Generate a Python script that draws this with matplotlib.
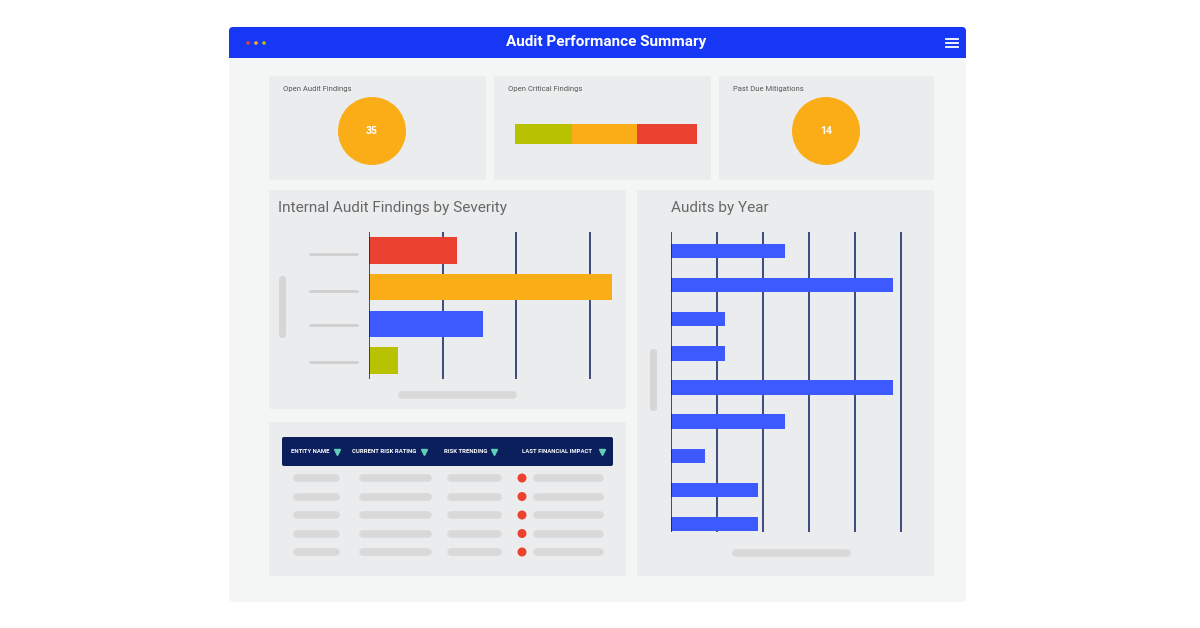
import matplotlib
matplotlib.use("Agg")
import matplotlib.pyplot as plt
from matplotlib.patches import FancyBboxPatch, Circle, Rectangle

# ---- data ----
title = "Audit Performance Summary"
kpi_titles = ["Open Audit Findings", "Open Critical Findings", "Past Due Mitigations"]
kpi_values = [35, 14]
critical_parts = [57, 65, 60]
critical_colors = ["#b9c200", "#fbad18", "#eb4130"]
severity_values = [12, 33, 15.5, 4]
severity_colors = ["#eb4130", "#fbad18", "#3d5afe", "#b9c200"]
severity_ticks = [10, 20, 30]
audits_values = [2.48, 4.83, 1.17, 1.17, 4.83, 2.48, 0.74, 1.89, 1.89]
audits_ticks = [1, 2, 3, 4, 5]
table_headers = ["ENTITY NAME", "CURRENT RISK RATING", "RISK TRENDING", "LAST FINANCIAL IMPACT"]
table_rows = 5

FONT = "Roboto"
W, H = 1200, 628
fig = plt.figure(figsize=(12, 6.28), dpi=100)
fig.patch.set_facecolor("white")
ax = fig.add_axes([0, 0, 1, 1])
ax.set_xlim(0, W); ax.set_ylim(H, 0); ax.axis("off")

def box(x0, y0, x1, y1, color, r=2, z=1):
    ax.add_patch(FancyBboxPatch((x0, y0), x1 - x0, y1 - y0,
                                boxstyle=f"round,pad=0,rounding_size={r}",
                                fc=color, ec="none", zorder=z))

def pill(x0, x1, y, lw=5.5, color="#d9d9d9", z=3):
    r = lw * 0.5 * 100 / 72
    ax.plot([x0 + r, x1 - r], [y, y], color=color, lw=lw, solid_capstyle="round", zorder=z)

def sub(x0, y0, x1, y1):
    return fig.add_axes([x0 / W, 1 - y1 / H, (x1 - x0) / W, (y1 - y0) / H])

# frame
box(229, 27, 966, 602, "#f4f5f5", r=5)
box(229, 27, 966, 58, "#1638f5", r=4, z=2)
ax.add_patch(Rectangle((229, 45), 737, 13, fc="#1638f5", ec="none", zorder=2))
ax.text(606, 42, title, color="white", fontsize=11, fontweight="bold",
        ha="center", va="center", family=FONT, zorder=3)
for i, c in enumerate(["#eb4130", "#fbad18", "#b9c200"]):
    ax.add_patch(Circle((248 + i * 8, 43), 1.8, fc=c, ec="none", zorder=3))
for dy in (-4, 0, 4):
    ax.plot([946, 958], [43 + dy, 43 + dy], color="white", lw=1.3, zorder=3)

# KPI cards
cards = [(269, 486), (494, 711), (719, 934)]
for (x0, x1), t in zip(cards, kpi_titles):
    box(x0, 76, x1, 180, "#ebeced", r=2)
    ax.text(x0 + 14, 89, t, fontsize=5.5, color="#555", va="center", family=FONT, zorder=3)
for cx, v in zip([372, 826], kpi_values):
    ax.add_patch(Circle((cx, 131), 34, fc="#fbad18", ec="none", zorder=3))
    ax.text(cx, 131, str(v), color="white", fontsize=7.5, fontweight="bold",
            ha="center", va="center", family=FONT, zorder=4)
cax = sub(515, 124, 697, 144)
left = 0
for v, c in zip(critical_parts, critical_colors):
    cax.barh(0, v, left=left, height=1, color=c)
    left += v
cax.set_xlim(0, sum(critical_parts)); cax.set_ylim(-0.5, 0.5); cax.axis("off")

# panels
box(269, 190, 626, 409, "#ebeced", r=2)
box(637, 190, 934, 576, "#ebeced", r=2)
box(269, 422, 626, 576, "#ebeced", r=2)
ax.text(278, 208, "Internal Audit Findings by Severity", fontsize=11, color="#666",
        va="center", family=FONT, zorder=3)
ax.text(671, 208, "Audits by Year", fontsize=11, color="#666",
        va="center", family=FONT, zorder=3)

# severity chart
sax = sub(369, 232, 615.5, 379)
sax.set_facecolor("none")
n = len(severity_values)
sax.barh(range(n), severity_values, height=0.72, color=severity_colors, zorder=2)
for t in severity_ticks:
    sax.axvline(t, color="#0b1f5c", lw=1.1, zorder=1)
sax.axvline(0, color="#0b1f5c", lw=1.1, zorder=3)
sax.set_xlim(0, 33.45); sax.set_ylim(n - 0.5 + 0.0, -0.5 - 0.0)
sax.axis("off")
for y in (254, 291, 325, 362):
    ax.plot([310, 357], [y, y], color="#cfcfcf", lw=2, solid_capstyle="round", zorder=3)
box(279, 276, 286, 338, "#d6d6d6", r=3, z=3)
pill(398, 517, 395)

# audits chart
aax = sub(671, 232, 902, 532)
aax.set_facecolor("none")
m = len(audits_values)
aax.barh(range(m), audits_values, height=0.42, color="#3d5afe", zorder=2)
for t in audits_ticks:
    aax.axvline(t, color="#0b1f5c", lw=1.1, zorder=1)
aax.axvline(0, color="#0b1f5c", lw=1.1, zorder=3)
aax.set_xlim(0, 5.02); aax.set_ylim(m - 1 + 0.234, -0.557)
aax.axis("off")
box(650, 349, 657, 411, "#d6d6d6", r=3, z=3)
pill(732, 851, 553)

# table
box(282, 437, 613, 466, "#0b1f5c", r=2, z=3)
hx = [291, 352, 444, 522]
tri = [337, 424, 494, 602]
for x, t, tx in zip(hx, table_headers, tri):
    ax.text(x, 451.5, t, fontsize=4.3, color="white", fontweight="bold",
            va="center", family=FONT, zorder=4)
    ax.plot([tx], [451.5], marker="v", ms=4, color="#5fd0b8", zorder=4)
for i in range(table_rows):
    y = 478 + i * 18.5
    pill(293, 340, y)
    pill(359, 432, y)
    pill(447, 502, y)
    pill(533, 604, y)
    ax.add_patch(Circle((522, y), 4.5, fc="#eb4130", ec="none", zorder=4))

fig.savefig("out.png", dpi=100, facecolor="white")
